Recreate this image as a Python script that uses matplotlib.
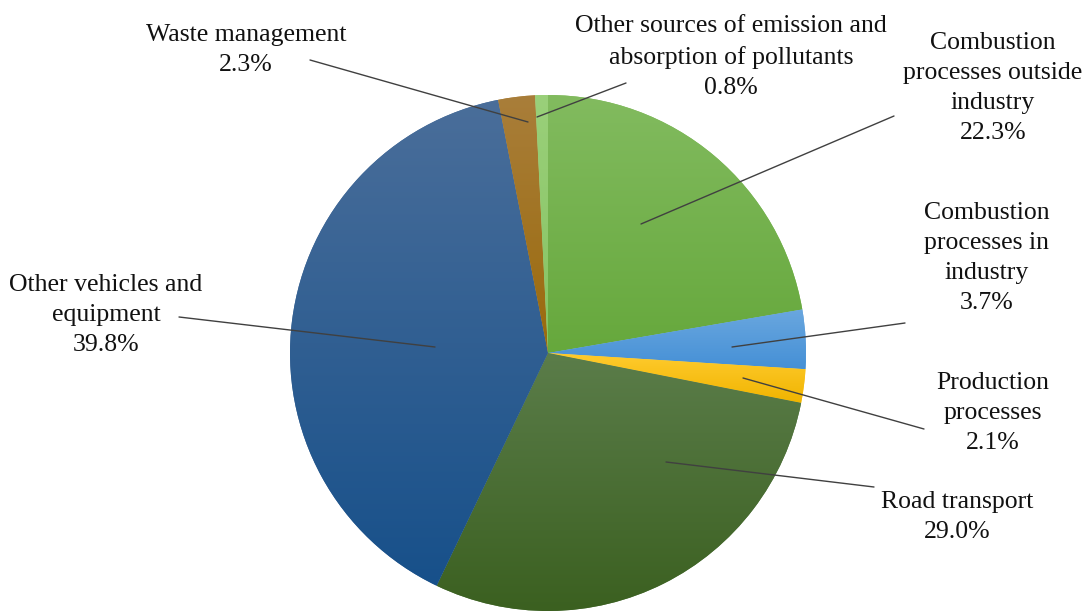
import numpy as np
import matplotlib.pyplot as plt
from matplotlib.colors import LinearSegmentedColormap

plt.rcParams['font.family'] = ['Liberation Serif', 'DejaVu Serif']

# slices, clockwise from 12 o'clock
labels = ["Combustion\nprocesses outside\nindustry",
          "Combustion\nprocesses in\nindustry",
          "Production\nprocesses",
          "Road transport",
          "Other vehicles and\nequipment",
          "Waste management",
          "Other sources of emission and\nabsorption of pollutants"]
shares = [22.3, 3.7, 2.1, 29.0, 39.8, 2.3, 0.8]
# top / bottom colour of each slice gradient
col_top = ['#82bb5f', '#6aa7df', '#ffcb2e', '#5b7d4a', '#4a6e9a', '#a97e3a', '#9ad07a']
col_bot = ['#66a83c', '#4590d6', '#f0b400', '#3b6020', '#17508a', '#9a6a0c', '#86c262']

# label layout in pixels: text centre, leader start, leader end
text_px = [(993, 88), (987, 258), (993, 413), (957, 517), (106, 315), (246, 50), (731, 57)]
lead_from = [(894, 116), (905, 323), (924, 429), (874, 487), (179, 317), (310, 60), (626, 83)]
lead_to = [(641, 224), (732, 347), (743, 378), (666, 462), (435, 347), (528, 122), (537, 117)]

W, H = 1086, 613
cx, cy, R = 548, 353, 258

def to_data(p):
    return ((p[0] - cx) / R, (cy - p[1]) / R)

fig = plt.figure(figsize=(W / 100, H / 100), dpi=100)
ax = fig.add_axes([0, 0, 1, 1])

wedges, _ = ax.pie(shares, startangle=90, counterclock=False, radius=1,
                   colors=col_top, wedgeprops=dict(linewidth=0, edgecolor='none'))

# vertical gradient fill clipped to each wedge
grad = np.linspace(0, 1, 256).reshape(-1, 1)
for w, ct, cb in zip(wedges, col_top, col_bot):
    bb = w.get_path().get_extents()
    cmap = LinearSegmentedColormap.from_list('g', [ct, cb])
    im = ax.imshow(grad, cmap=cmap, aspect='auto', interpolation='bilinear',
                   extent=(bb.x0, bb.x1, bb.y0, bb.y1), origin='upper', zorder=2)
    im.set_clip_path(w)

for lab, val, tp, lf, lt in zip(labels, shares, text_px, lead_from, lead_to):
    ax.annotate("", xy=to_data(lt), xytext=to_data(lf),
                arrowprops=dict(arrowstyle='-', color='#404040', lw=1,
                                shrinkA=0, shrinkB=0), zorder=3)
    ax.text(*to_data(tp), f"{lab}\n{val:.1f}%", ha='center', va='center',
            fontsize=18.5, linespacing=1.46, color='#111111', zorder=4)

ax.set_xlim(-cx / R, (W - cx) / R)
ax.set_ylim(-(H - cy) / R, cy / R)
ax.set_aspect('auto')
ax.axis('off')

fig.savefig('out.png', dpi=100, facecolor='white')
